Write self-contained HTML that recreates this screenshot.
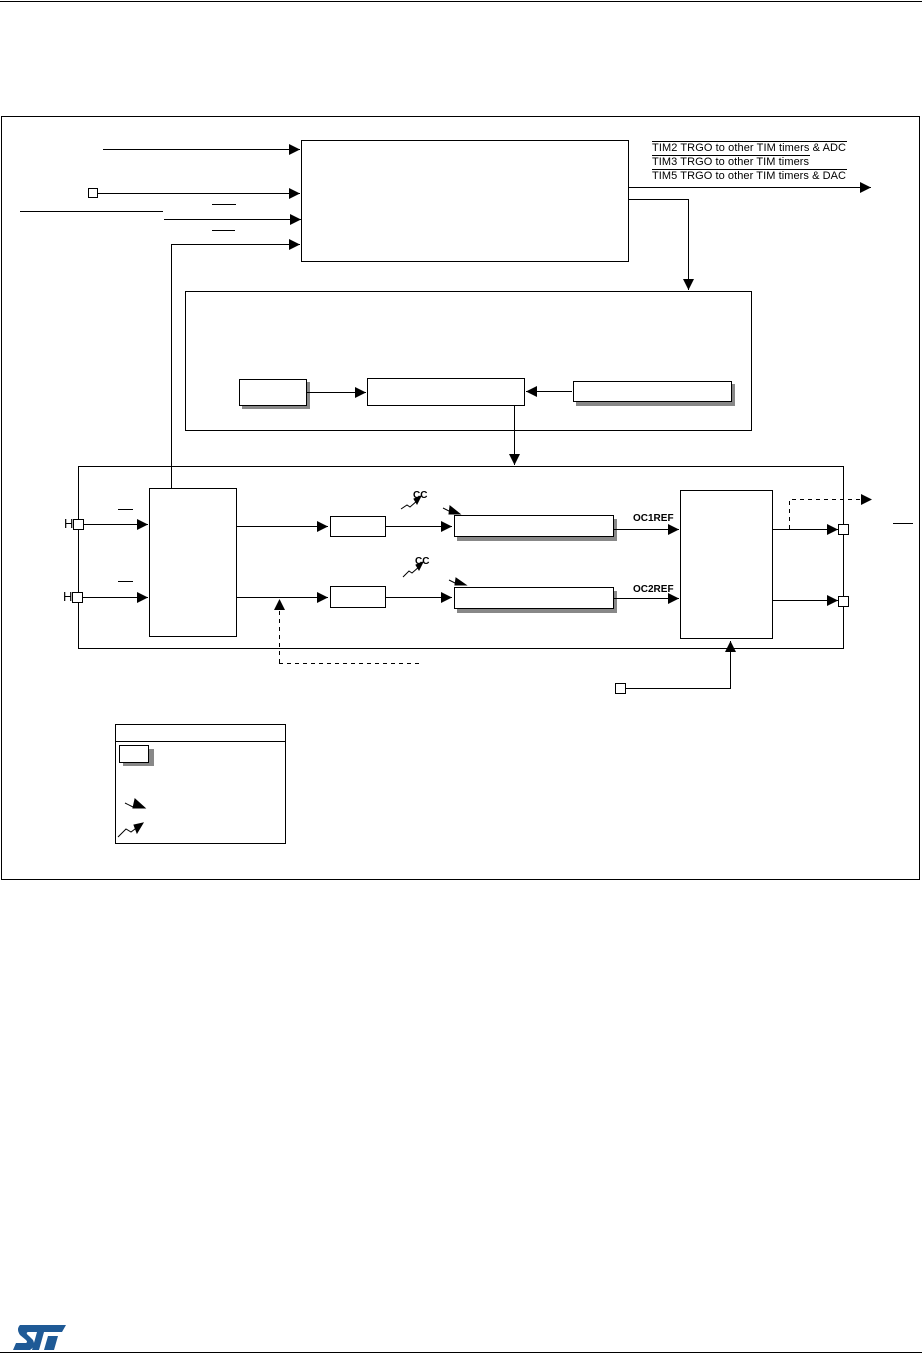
<!DOCTYPE html>
<html><head><meta charset="utf-8"><style>
body{margin:0;background:#fff;width:922px;height:1361px;overflow:hidden}
text{font-family:"Liberation Sans",Arial,sans-serif}
</style></head><body>
<svg width="922" height="1361" viewBox="0 0 922 1361" xmlns="http://www.w3.org/2000/svg">
<defs>
<marker id="a" markerWidth="12" markerHeight="12" refX="11" refY="5.5" orient="auto" markerUnits="userSpaceOnUse"><path d="M0,0 L11,5.5 L0,11 z" fill="#000"/></marker>
</defs>
<g fill="none" stroke="#000" stroke-width="1">
<line x1="0" y1="1.5" x2="922" y2="1.5"/>
<line x1="0" y1="1352.5" x2="922" y2="1352.5"/>
<rect x="1.5" y="116.5" width="918" height="763"/>
<rect x="301.5" y="140.5" width="327" height="121"/>
<line x1="103" y1="149.5" x2="300" y2="149.5" marker-end="url(#a)"/>
<rect x="88.5" y="188.5" width="9" height="9" fill="#fff"/>
<line x1="97" y1="193.5" x2="300" y2="193.5" marker-end="url(#a)"/>
<line x1="20" y1="211.5" x2="163" y2="211.5"/>
<line x1="164" y1="219.5" x2="301" y2="219.5" marker-end="url(#a)"/>
<line x1="212" y1="204.5" x2="236" y2="204.5"/>
<line x1="212" y1="230.5" x2="235" y2="230.5"/>
<polyline points="171.5,488 171.5,244.5 300,244.5" marker-end="url(#a)"/>
<line x1="628" y1="187.5" x2="871" y2="187.5" marker-end="url(#a)"/>
<polyline points="628,199.5 688.5,199.5 688.5,290" marker-end="url(#a)"/>
<line x1="652" y1="141.5" x2="847" y2="141.5"/>
<line x1="652" y1="155.5" x2="810" y2="155.5"/>
<line x1="652" y1="169.5" x2="847" y2="169.5"/>
<rect x="185.5" y="291.5" width="566" height="139"/>
<rect x="242" y="382" width="68" height="27" fill="#888" stroke="none"/>
<rect x="239.5" y="379.5" width="67" height="26" fill="#fff"/>
<line x1="307" y1="392.5" x2="366" y2="392.5" marker-end="url(#a)"/>
<rect x="367.5" y="378.5" width="157" height="27" fill="#fff"/>
<rect x="576" y="384" width="159" height="22" fill="#888" stroke="none"/>
<rect x="573.5" y="381.5" width="158" height="20" fill="#fff"/>
<line x1="572" y1="391.5" x2="526" y2="391.5" marker-end="url(#a)"/>
<line x1="514.5" y1="405" x2="514.5" y2="465" marker-end="url(#a)"/>
<rect x="78.5" y="466.5" width="765" height="182"/>
<rect x="149.5" y="488.5" width="87" height="148" fill="#fff"/>
<line x1="83" y1="524.5" x2="148" y2="524.5" marker-end="url(#a)"/>
<line x1="83" y1="597.5" x2="148" y2="597.5" marker-end="url(#a)"/>
<rect x="73.5" y="519.5" width="10" height="10" fill="#fff"/>
<rect x="72.5" y="592.5" width="10" height="10" fill="#fff"/>
<line x1="118" y1="509.5" x2="133" y2="509.5"/>
<line x1="118" y1="581.5" x2="133" y2="581.5"/>
<line x1="236" y1="526.5" x2="328" y2="526.5" marker-end="url(#a)"/>
<line x1="236" y1="597.5" x2="328" y2="597.5" marker-end="url(#a)"/>
<rect x="330.5" y="516.5" width="55" height="20" fill="#fff"/>
<rect x="330.5" y="586.5" width="55" height="21" fill="#fff"/>
<line x1="385" y1="526.5" x2="452" y2="526.5" marker-end="url(#a)"/>
<line x1="385" y1="597.5" x2="452" y2="597.5" marker-end="url(#a)"/>
<rect x="457" y="519" width="160" height="22" fill="#888" stroke="none"/>
<rect x="454.5" y="515.5" width="159" height="21" fill="#fff"/>
<rect x="457" y="591" width="160" height="22" fill="#888" stroke="none"/>
<rect x="454.5" y="587.5" width="159" height="21" fill="#fff"/>
<polyline points="279.5,663 279.5,601" stroke-dasharray="4,4"/>
<path d="M274,610 L279.5,599 L285,610z" fill="#000" stroke="none"/>
<line x1="279" y1="663.5" x2="422" y2="663.5" stroke-dasharray="4,4"/>
<line x1="613" y1="529.5" x2="679" y2="529.5" marker-end="url(#a)"/>
<line x1="613" y1="598.5" x2="679" y2="598.5" marker-end="url(#a)"/>
<rect x="680.5" y="490.5" width="92" height="148" fill="#fff"/>
<line x1="772" y1="529.5" x2="838" y2="529.5" marker-end="url(#a)"/>
<line x1="772" y1="600.5" x2="838" y2="600.5" marker-end="url(#a)"/>
<rect x="838.5" y="524.5" width="10" height="10" fill="#fff"/>
<rect x="838.5" y="596.5" width="10" height="10" fill="#fff"/>
<polyline points="789.5,529 789.5,499.5 862,499.5" stroke-dasharray="4,4"/>
<path d="M861,494 L872,499.5 L861,505z" fill="#000" stroke="none"/>
<line x1="893" y1="523.5" x2="913" y2="523.5"/>
<rect x="615.5" y="683.5" width="10" height="10" fill="#fff"/>
<polyline points="625,688.5 730.5,688.5 730.5,641" marker-end="url(#a)"/>
<polyline points="401,509 407,505 410,507 418,500"/>
<path d="M414,499 L421,496 L417,504z" fill="#000"/>
<polyline points="403,577 409,571 412,573 420,566"/>
<path d="M416,565 L423,562 L419,570z" fill="#000"/>
<polyline points="443,508 451,512"/>
<path d="M450,506 L460,514 L449,514z" fill="#000"/>
<polyline points="449,580 457,584"/>
<path d="M456,578 L466,585 L455,585z" fill="#000"/>
<rect x="115.5" y="724.5" width="170" height="119"/>
<line x1="115" y1="741.5" x2="285" y2="741.5"/>
<rect x="123" y="749" width="31" height="17" fill="#888" stroke="none"/>
<rect x="119.5" y="745.5" width="29" height="17" fill="#fff"/>
<polyline points="125,803 133,807"/>
<path d="M135,799 L145,808 L133,808z" fill="#000"/>
<polyline points="118,837 126,829 131,832 139,826"/>
<path d="M134,825 L143,823 L137,833z" fill="#000"/>
</g>
<g font-size="11" fill="#000">
<text x="652" y="151" textLength="194">TIM2 TRGO to other TIM timers &amp; ADC</text>
<text x="652" y="165" textLength="157">TIM3 TRGO to other TIM timers</text>
<text x="652" y="179" textLength="194">TIM5 TRGO to other TIM timers &amp; DAC</text>
<text x="64" y="528" font-size="13">H</text>
<text x="63" y="601" font-size="13">H</text>
<text x="413" y="498" font-size="10" font-weight="bold">CC</text>
<text x="415" y="564" font-size="10" font-weight="bold">CC</text>
<text x="633" y="521" font-size="10" font-weight="bold">OC1REF</text>
<text x="633" y="592" font-size="10" font-weight="bold">OC2REF</text>
</g>
<path d="M20,1325 L66,1325 L62,1332 L44,1332 L39,1350 L32,1350 L37,1332 L28,1332 Q25,1333 29,1336 L33,1340 Q36,1346 30,1350 L13,1350 L16,1343 L26,1343 Q28,1342 26,1340 L20,1335 Q16,1329 20,1325Z M48,1336 L58,1336 L54,1350 L44,1350Z" fill="#1f5a96"/>
</svg>
</body></html>
